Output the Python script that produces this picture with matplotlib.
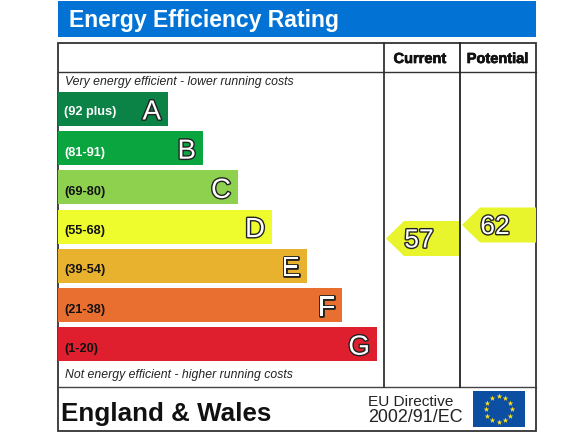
#!/usr/bin/env python3
import numpy as np
import matplotlib
matplotlib.use('Agg')
import matplotlib.pyplot as plt
import matplotlib.patheffects as pe
from matplotlib.patches import Rectangle, Polygon

letters = ['A', 'B', 'C', 'D', 'E', 'F', 'G']
ranges = ['(92 plus)', '(81-91)', '(69-80)', '(55-68)', '(39-54)', '(21-38)', '(1-20)']
band_lengths = [110, 145, 180, 214, 249, 284, 319]
band_colors = ['#0b8246', '#0aa53f', '#8dd14f', '#eefb2d', '#e9b22e', '#e96f30', '#df1f2d']
range_colors = ['white', 'white', '#111111', '#111111', '#111111', '#111111', '#111111']
ratings = [57, 62]
rating_labels = ['Current', 'Potential']
rating_color = '#e9f52c'

plt.rcParams['font.family'] = ['Liberation Sans', 'DejaVu Sans']

fig = plt.figure(figsize=(5.7, 4.37), dpi=100)
ax = fig.add_axes([0, 0, 1, 1])
ax.set_xlim(0, 570)
ax.set_ylim(437, 0)
ax.axis('off')

# title bar
ax.add_patch(Rectangle((58, 1), 478, 36, color='#0273d4', lw=0))
ax.text(69, 21, 'Energy Efficiency Rating', color='white', fontsize=16.6, fontweight='bold', va='center')

# frame and grid
ax.add_patch(Rectangle((58, 43), 478, 388, fill=False, ec='#333333', lw=1.3))
ax.plot([58, 536], [72, 72], color='#333333', lw=1)
ax.plot([58, 536], [387, 387], color='#444444', lw=1)
ax.plot([384, 384], [43, 387], color='#333333', lw=1.3)
ax.plot([460, 460], [43, 387], color='#222222', lw=1.3)

bold_edge = [pe.withStroke(linewidth=0.5, foreground='#111111')]
ax.text(420, 59, rating_labels[0], fontsize=10.5, fontweight='bold', ha='center', va='center', color='#111111', path_effects=bold_edge)
ax.text(497.5, 59, rating_labels[1], fontsize=10.5, fontweight='bold', ha='center', va='center', color='#111111', path_effects=bold_edge)

ax.text(65, 82, 'Very energy efficient - lower running costs', fontsize=8.8, style='italic', va='center', color='#222222')
ax.text(65, 375, 'Not energy efficient - higher running costs', fontsize=8.8, style='italic', va='center', color='#222222')

# bands
outline = [pe.withStroke(linewidth=2, foreground='#222222')]
ys = 109 + np.arange(len(letters)) * 39.2
ax.barh(ys, band_lengths, height=34, left=58, color=band_colors, lw=0)
for i in range(len(letters)):
    ax.text(64, ys[i] + (3 if i == 0 else 4.5), ranges[i], fontsize=9.2, fontweight='bold', va='center', color=range_colors[i])
    ax.text(58 + band_lengths[i] - 7, ys[i] + 3.5, letters[i], fontsize=20, ha='right', va='center', color='white', path_effects=outline)

# rating arrows
outline2 = [pe.withStroke(linewidth=2, foreground='#222222')]
for r, right in zip(ratings, [460, 536]):
    yc = 238.5 + (57 - r) * 2.7
    x0 = right - 74
    ax.add_patch(Polygon([(x0, yc), (x0 + 18, yc - 17.5), (right, yc - 17.5), (right, yc + 17.5), (x0 + 18, yc + 17.5)], color=rating_color, lw=0))
    ax.text(x0 + 33, yc + 2, str(r), fontsize=19, ha='center', va='center', color='white', path_effects=outline2)

# footer
ax.text(61, 414, 'England & Wales', fontsize=18.7, fontweight='bold', va='center', color='#111111')
ax.text(368, 402, 'EU Directive', fontsize=11.1, va='center', color='#222222')
ax.text(368, 418, '2002/91/EC', fontsize=12.9, va='center', color='#222222')

# flag
ax.add_patch(Rectangle((473, 391), 52, 36, color='#0b4ea2', lw=0))
ang = np.arange(12) * np.pi / 6
ax.scatter(498.5 + 13 * np.cos(ang), 409 + 13 * np.sin(ang), marker='*', s=18, color='#ffe11a', lw=0)

fig.savefig('out.png', dpi=100)
